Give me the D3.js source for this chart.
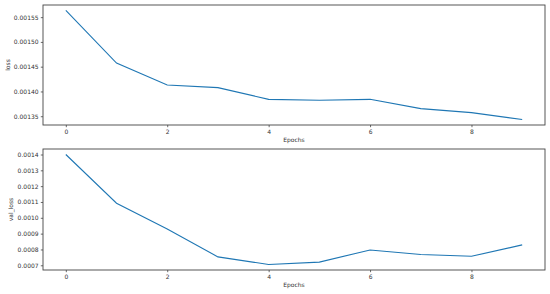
<!DOCTYPE html>
<html><head><meta charset="utf-8">
<script src="https://cdn.jsdelivr.net/npm/d3@7"></script>
<style>
html,body{margin:0;padding:0;background:#fff;}
svg text{font-family:"DejaVu Sans",sans-serif;fill:#333;}
</style></head>
<body>
<svg id="c" width="550" height="294"></svg>
<script>
const epochs = [0,1,2,3,4,5,6,7,8,9];
const loss = [0.0015635,0.0014573,0.001413,0.0014077,0.0013841,0.0013821,0.0013841,0.0013653,0.0013573,0.0013433];
const valLoss = [0.0014,0.001092,0.000929,0.000753,0.000705,0.00072,0.000797,0.000768,0.000757,0.000829];
const xTicks = [0,2,4,6,8];
const lossTicks = [0.00135,0.00140,0.00145,0.00150,0.00155];
const valTicks = [0.0007,0.0008,0.0009,0.0010,0.0011,0.0012,0.0013,0.0014];

const svg = d3.select("#c");
const L = 43, R = 545;
const FS = "6px";

function panel(top, bottom, values, ticks, fmt, ylabel, ylabelX){
  const x = d3.scaleLinear().domain([-0.45, 9.45]).range([L, R]);
  const mn = d3.min(values), mx = d3.max(values), pad = (mx-mn)*0.05;
  const y = d3.scaleLinear().domain([mn-pad, mx+pad]).range([bottom, top]);
  const g = svg.append("g");
  g.append("path").datum(epochs)
    .attr("fill","none").attr("stroke","#1f77b4").attr("stroke-width",1.1)
    .attr("d", d3.line().x(d=>x(d)).y(d=>y(values[d])));
  g.append("rect").attr("x",L).attr("y",top).attr("width",R-L).attr("height",bottom-top)
    .attr("fill","none").attr("stroke","#444").attr("stroke-width",0.9);
  const xa = g.append("g").attr("transform",`translate(0,${bottom})`)
    .call(d3.axisBottom(x).tickValues(xTicks).tickSize(2.2).tickPadding(2.2).tickFormat(d3.format("d")));
  const ya = g.append("g").attr("transform",`translate(${L},0)`)
    .call(d3.axisLeft(y).tickValues(ticks).tickSize(2.2).tickPadding(2.2).tickFormat(d3.format(fmt)));
  [xa,ya].forEach(a=>{
    a.select(".domain").remove();
    a.selectAll("line").attr("stroke","#444").attr("stroke-width",0.8);
    a.selectAll("text").style("font-size",FS).style("font-family","DejaVu Sans").attr("fill","#333");
  });
  g.append("text").attr("x",(L+R)/2).attr("y",bottom+17).attr("text-anchor","middle")
    .style("font-size",FS).text("Epochs");
  g.append("text").attr("transform",`translate(${ylabelX},${(top+bottom)/2}) rotate(-90)`)
    .attr("text-anchor","middle").style("font-size",FS).text(ylabel);
}
panel(5, 125, loss, lossTicks, ".5f", "loss", 9.5);
panel(149, 270, valLoss, valTicks, ".4f", "val_loss", 13);
</script>
</body></html>
